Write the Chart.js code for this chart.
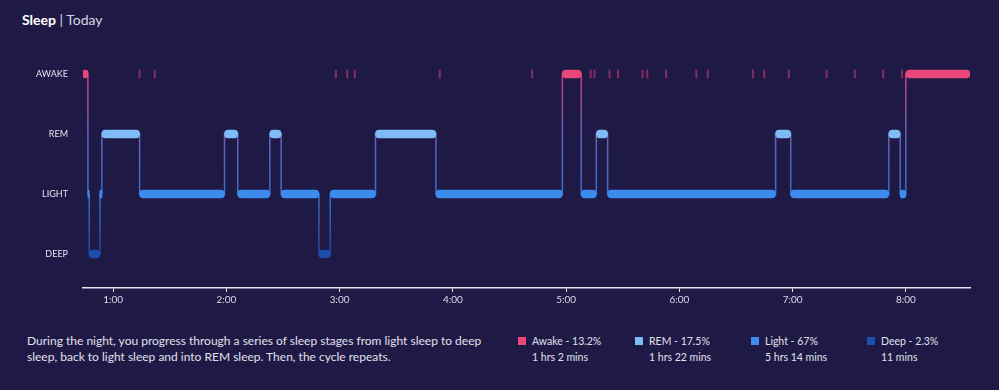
<!DOCTYPE html>
<html lang="en">
<head>
    <meta charset="UTF-8">
    <title>Sleep | Today</title>
    <script src="https://cdn.jsdelivr.net/npm/chart.js"></script>
    <style>
        body { margin: 0; background: #1f1a45; font-family: Lato, "Open Sans", sans-serif; color: #e6e4f0; }
        #wrap { position: relative; width: 999px; height: 390px; overflow: hidden; }
        #title { position: absolute; left: 22px; top: 11px; font-size: 14px; color: #d8d6e4; }
        #title b { color: #fff; font-weight: 700; }
        #chartBox { position: absolute; left: 0; top: 0; width: 999px; height: 310px; }
        #note { position: absolute; left: 27px; top: 333px; width: 455px; font-size: 12px; line-height: 16px; color: #e2e0ec; }
        .leg { position: absolute; top: 333px; font-size: 10.5px; line-height: 16px; color: #e2e0ec; }
        .leg i { position: absolute; left: 0; top: 4px; width: 8px; height: 8px; }
        .leg span { display: block; padding-left: 14px; }
    </style>
</head>
<body>
<div id="wrap">
    <div id="title"><b>Sleep</b> | Today</div>
    <div id="chartBox"><canvas id="sleepChart" width="999" height="310"></canvas></div>
    <div id="note">During the night, you progress through a series of sleep stages from light sleep to deep sleep, back to light sleep and into REM sleep. Then, the cycle repeats.</div>
</div>
<script>
    // stages from bottom to top of the chart
    const stageNames = ['DEEP', 'LIGHT', 'REM', 'AWAKE'];
    const stageColors = ['#1e4db0', '#3e8bf0', '#7fbcf7', '#e9477c'];

    // hypnogram: stage of each segment and when it starts (minutes after midnight)
    const segStage = ['AWAKE', 'LIGHT', 'DEEP', 'LIGHT', 'REM', 'LIGHT', 'REM', 'LIGHT', 'REM', 'LIGHT',
        'DEEP', 'LIGHT', 'REM', 'LIGHT', 'AWAKE', 'LIGHT', 'REM', 'LIGHT', 'REM', 'LIGHT', 'REM', 'LIGHT', 'AWAKE'];
    const segStart = [44, 46.6, 47.3, 53, 54, 74, 119, 126, 143, 149,
        169, 175, 199, 231, 298, 308, 316, 322, 411, 419, 471, 477, 480];
    const sleepEnd = 514;

    // brief awakenings (minutes after midnight)
    const wakeTicks = [74, 82, 178, 184, 188, 233, 282, 313, 315, 323, 327.5, 340.5, 343, 353,
        369, 375, 399, 405, 418, 438, 453, 468, 478];

    const hourTicks = [60, 120, 180, 240, 300, 360, 420, 480];

    const legendLabels = ['Awake - 13.2%', 'REM - 17.5%', 'Light - 67%', 'Deep - 2.3%'];
    const legendTimes = ['1 hrs 2 mins', '1 hrs 22 mins', '5 hrs 14 mins', '11 mins'];
    const legendColors = ['#e9477c', '#7fbcf7', '#3e8bf0', '#1e4db0'];

    const legendLeft = [518, 635, 751, 867];
    legendLabels.forEach((lab, i) => {
        const d = document.createElement('div');
        d.className = 'leg';
        d.style.left = legendLeft[i] + 'px';
        d.innerHTML = '<i style="background:' + legendColors[i] + '"></i><span>' + lab + '</span><span>' + legendTimes[i] + '</span>';
        document.getElementById('wrap').appendChild(d);
    });

    const level = s => stageNames.indexOf(s);

    const segBars = segStart.map((s, i) => ({
        x: [s, i < segStart.length - 1 ? segStart[i + 1] : sleepEnd],
        y: level(segStage[i])
    }));
    const linePts = [];
    segBars.forEach(b => {
        linePts.push({ x: b.x[0], y: b.y });
        linePts.push({ x: b.x[1], y: b.y });
    });
    const tickBars = wakeTicks.map(t => ({ x: [t - 0.4, t + 0.4], y: 3 }));

    function lineGradient(ctx) {
        const chart = ctx.chart;
        const y = chart.scales.y;
        if (!chart.chartArea) return '#888';
        const g = chart.ctx.createLinearGradient(0, y.getPixelForValue(3), 0, y.getPixelForValue(0));
        g.addColorStop(0, 'rgba(233,71,124,0.85)');
        g.addColorStop(0.33, 'rgba(130,120,220,0.75)');
        g.addColorStop(0.67, 'rgba(62,139,240,0.75)');
        g.addColorStop(1, 'rgba(30,77,176,0.85)');
        return g;
    }

    const ctx = document.getElementById('sleepChart').getContext('2d');
    new Chart(ctx, {
        type: 'bar',
        data: {
            datasets: [
                {
                    data: segBars,
                    backgroundColor: c => stageColors[c.raw ? c.raw.y : 0],
                    barThickness: 8,
                    borderRadius: 4,
                    borderSkipped: false,
                    grouped: false,
                    order: 1
                },
                {
                    data: tickBars,
                    backgroundColor: 'rgba(205,62,120,0.55)',
                    barThickness: 8,
                    grouped: false,
                    order: 1
                },
                {
                    type: 'line',
                    indexAxis: 'x',
                    data: linePts,
                    borderColor: lineGradient,
                    borderWidth: 1.5,
                    pointRadius: 0,
                    tension: 0,
                    order: 2
                }
            ]
        },
        options: {
            indexAxis: 'y',
            responsive: false,
            animation: false,
            layout: { padding: { top: 44, right: 29, bottom: 0, left: 0 } },
            plugins: { legend: { display: false }, tooltip: { enabled: false } },
            scales: {
                x: {
                    type: 'linear',
                    min: 44,
                    max: sleepEnd,
                    afterBuildTicks: s => { s.ticks = hourTicks.map(v => ({ value: v })); },
                    afterFit: s => { s.height = 22; },
                    grid: { drawOnChartArea: false, drawTicks: true, tickLength: 4, color: '#e6e4f0' },
                    border: { display: true, color: '#e6e4f0', width: 1.5 },
                    ticks: {
                        color: '#dcdaea',
                        padding: 2,
                        font: { family: 'Lato', size: 10 },
                        callback: v => (v / 60) + ':00'
                    }
                },
                y: {
                    type: 'linear',
                    offset: false,
                    min: -0.567,
                    max: 3.5,
                    afterBuildTicks: s => { s.ticks = [0, 1, 2, 3].map(v => ({ value: v })); },
                    afterFit: s => { s.width = 83; },
                    grid: { display: false, drawTicks: false },
                    border: { display: false },
                    ticks: {
                        color: '#e6e4f0',
                        padding: 15,
                        font: { family: 'Lato', size: 9 },
                        callback: v => stageNames[v]
                    }
                }
            }
        }
    });
</script>
</body>
</html>
